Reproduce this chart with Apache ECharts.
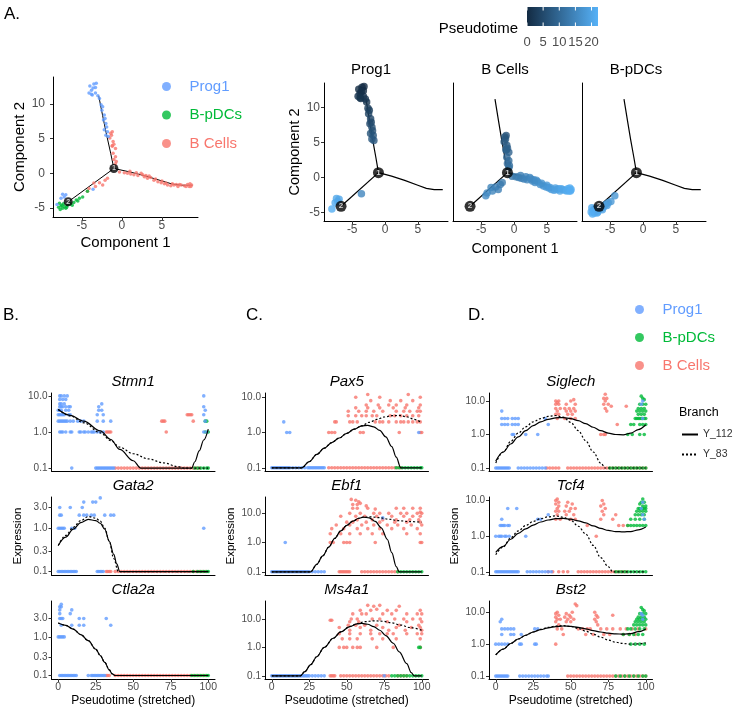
<!DOCTYPE html>
<html>
<head>
<meta charset="utf-8">
<script src="https://cdn.jsdelivr.net/npm/echarts@6/dist/echarts.min.js"></script>
<style>
  html, body { margin: 0; background: #fff; }
  #chart { width: 734px; height: 709px; }
</style>
</head>
<body>
<div id="chart"></div>
<script>
// ---------- panel A: cell trajectory (component 1, component 2, pseudotime) ----------
const prog1Pts = [[-4.0,12.6,0.3],[-3.8,12.0,0.8],[-3.5,12.9,0.1],[-3.3,12.4,0.4],[-3.2,13.0,0.0],[-4.1,11.6,1.2],[-3.7,11.3,1.5],[-3.3,11.6,1.2],[-3.0,11.2,1.6],[-2.8,10.8,2.0],[-3.6,12.3,0.6],[-3.8,11.4,1.4],
  [-2.6,9.9,2.9],[-2.4,9.6,3.2],[-2.5,9.1,3.7],[-2.2,8.4,4.3],[-2.1,7.9,4.8],[-2.3,7.7,5.0],[-2.0,7.2,5.5],[-1.9,6.7,6.0],[-2.2,6.3,6.4],[-1.8,6.0,6.7],[-2.0,5.5,7.2],[-1.7,5.3,7.4],
  [-7.4,-3.0,20.3],[-7.2,-3.4,20.4],[-7.6,-3.6,20.8],[-7.0,-3.1,20.1],[-8.1,-4.5,21.5],[-3.6,-2.3,15.0]];
const bCellPts = [[-1.2,6.0,6.8],[-1.3,5.5,7.2],[-1.1,4.6,8.1],[-1.0,4.2,8.5],[-1.2,3.9,8.8],[-0.8,3.6,9.1],[-1.1,2.9,9.8],[-0.8,2.4,10.3],[-1.0,2.0,10.7],[-0.7,1.7,11.0],[-0.8,1.4,11.3],[-1.4,5.8,7.0],[-1.2,4.0,8.7],[-1.5,5.1,7.5],
  [-0.3,0.2,12.4],[0.3,0.1,13.0],[0.7,0.0,13.4],[1.1,-0.1,13.8],[1.5,-0.2,14.2],[2.0,-0.3,14.7],[2.4,0.0,15.1],[2.8,-0.5,15.5],[3.2,-0.7,15.9],[3.6,-0.6,16.3],[4.0,-1.0,16.8],[4.5,-1.2,17.3],[4.9,-1.35,17.7],[5.3,-1.5,18.1],[5.7,-1.7,18.5],[6.1,-1.8,18.9],[6.5,-1.7,19.3],[7.0,-1.9,19.8],[7.4,-1.7,20.2],[7.8,-1.8,20.6],[8.2,-1.6,21.0],[8.5,-1.5,21.3],[8.7,-1.7,21.5],[8.4,-1.9,21.2],[6.8,-1.6,19.6],[5.0,-1.1,17.8],[3.0,-0.3,15.7],[1.0,0.3,13.7],
  [1.8,0.1,14.5],[2.6,-0.2,15.3],[3.4,-0.4,16.1],[4.2,-0.8,16.9],[5.5,-1.4,18.3],[6.3,-1.5,19.1],[7.2,-1.6,20.0],[8.0,-1.9,20.8],[8.6,-1.9,21.4],
  [-3.5,-1.4,14.6],[-3.3,-1.9,14.9],[-2.8,-1.35,14.2],[-2.4,-1.7,13.9],[-2.1,-1.0,13.3],[-1.8,-0.7,13.0],[-4.1,-2.2,15.5],[-4.3,-2.6,15.8]];
const bpdcPts = [[-7.8,-4.3,20.8],[-7.6,-4.7,21.1],[-7.4,-5.05,21.3],[-7.2,-4.8,21.0],[-7.0,-5.05,21.2],[-7.5,-4.6,20.9],[-7.7,-5.2,21.5],[-6.8,-4.6,20.4],[-6.4,-4.4,19.9],[-6.0,-4.2,19.4],[-5.7,-3.85,19.0],[-5.3,-3.6,18.5],[-4.9,-3.4,18.0],[-6.9,-4.9,20.6],[-7.3,-4.4,20.7],[-6.2,-4.6,19.9],[-5.5,-4.0,19.1],[-7.9,-4.9,21.4],[-4.3,-2.6,17.5]];
const stemArm = [[-2.9,11.2],[-2.4,8.3],[-1.9,5.5],[-1.4,2.9],[-1.0,0.7]];
const leftArm = [[-1.0,0.7],[-6.7,-4.1]];
const rightArm = [[-1.0,0.7],[1.0,0.2],[3.0,-0.4],[5.0,-1.1],[6.3,-1.55],[7.5,-1.72],[8.8,-1.72]];
const branchNodes = [[-1.0,0.7,'1'],[-6.7,-4.1,'2']];
const componentTicks = [-5, 0, 5];
const component2Ticks = [-5, 0, 5, 10];
const pseudotimeTicks = [0, 5, 10, 15, 20];
const pseudotimeMax = 22;

// ---------- panels B-D: expression vs pseudotime, [pseudotime, expression] ----------
// zeros are drawn at 0.1 on the log axis
const stmn1Prog1 = [[1,10],[2,10],[4,10],[6,10],[1,8],[3,8],[5,8],[1,6],[2,6],[4,6],[29,6],[1,5],[2,5],[3,5],[5,5],[7,5],[8,5],[27,5],[0,4],[1,4],[2,4],[5,4],[7,4],[27,4],[29,4],[0,3],[1,3],[2,3],[3,3],[4,3],[7,3],[8,3],[26,3],[30,3],[0,2],[1,2],[2,2],[3,2],[4,2],[5,2],[6,2],[8,2],[10,2],[13,2],[15,2],[17,2],[26,2],[30,2],[35,2],[1,1],[2,1],[3,1],[5,1],[8,1],[9,1],[14,1],[15,1],[17,1],[18,1],[20,1],[22,1],[23,1],[24,1],[26,1],[28,1],[30,1],[97,10],[97,5],[98,4],[97,3],[98,2],[97,1],[99,1]];
const stmn1Prog1Zero = [9,25,26,27,28,29,30,31,32,33,34,35,36,37];
const stmn1BCells = [[32,1],[33,1],[34,1],[35,1],[69,2],[70,2],[71,2],[72,1],[86,3],[87,3],[88,3],[89,3],[90,2]];
const stmn1BCellsZero = [38,40,42,44,46,48,50,52,54,56,58,60,62,64,66,68,70,72,74,76,78,80,82,84,86,88,90,92,94];
const stmn1BpDCs = [[98,2],[99,2],[98,1],[100,1]];
const stmn1BpDCsZero = [91,93,95,97,99,100];
const stmn1Fit112 = [[0,4.2],[8,2.9],[17,2.0],[28,1.07],[35,0.62],[41,0.33],[50,0.16],[55,0.1],[89,0.1],[91,0.15],[94,0.3],[97,0.6],[100,1.2]];
const stmn1Fit83 = [[0,4.2],[8,2.8],[17,1.8],[28,0.95],[35,0.58],[41,0.38],[50,0.25],[60,0.18],[70,0.14],[80,0.11],[84,0.1],[100,0.1]];

const gata2Prog1 = [[28,5],[17,4],[23,4],[25,4],[1,3],[8,3],[16,3],[1,2],[2,2],[14,2],[17,2],[19,2],[22,2],[24,2],[31,2],[35,2],[37,2],[0,1],[1,1],[2,1],[3,1],[4,1],[9,1],[11,1],[97,1]];
const gata2Prog1Zero = [0,1,2,3,4,5,6,7,8,9,10,11,12,26,27,28,29,30];
const gata2BCells = [];
const gata2BCellsZero = [32,33,34,35,38,40,42,44,46,48,50,52,54,56,58,60,62,64,66,68,70,72,74,76,78,80,82,84,86,88,90,92,94,96,98];
const gata2BpDCs = [];
const gata2BpDCsZero = [90,93,95,97,99,100];
const gata2Fit112 = [[0,0.4],[5,0.62],[10,0.95],[15,1.35],[20,1.6],[25,1.5],[28,1.3],[31,0.95],[34,0.5],[37,0.25],[39,0.15],[41,0.1],[100,0.1]];
const gata2Fit83 = [[0,0.4],[5,0.68],[10,1.05],[15,1.5],[20,1.85],[25,1.7],[28,1.45],[31,1.0],[34,0.5],[37,0.2],[40,0.1],[100,0.1]];

const ctla2aProg1 = [[2,7],[1,6],[2,6],[1,5],[9,5],[1,4],[8,4],[1,3],[2,3],[3,3],[14,3],[17,3],[32,3],[2,2],[9,2],[14,2],[17,2],[35,2],[0,1],[1,1],[2,1],[3,1],[4,1]];
const ctla2aProg1Zero = [1,2,3,4,5,6,7,8,9,10,11,12,20,22,23,24,25,26,27,28,29,30,31];
const ctla2aBCells = [];
const ctla2aBCellsZero = [32,33,34,38,40,42,44,46,48,50,52,54,56,58,60,62,64,66,68,70,72,74,76,78,80,82,84,86,88,90,92,94,96,98];
const ctla2aBpDCs = [];
const ctla2aBpDCsZero = [89,91,93,95,97,99,100];
const ctla2aFit112 = [[0,2.3],[5,2.0],[10,1.6],[15,1.15],[20,0.8],[25,0.48],[28,0.33],[31,0.22],[34,0.14],[36,0.11],[38,0.1],[100,0.1]];
const ctla2aFit83 = [[0,2.3],[5,2.0],[10,1.6],[15,1.15],[20,0.8],[25,0.48],[28,0.33],[31,0.22],[34,0.14],[36,0.11],[38,0.1],[100,0.1]];

const pax5Prog1 = [[8,2],[10,1],[12,1],[98,1]];
const pax5Prog1Zero = [0,1,2,3,4,5,6,7,8,9,10,11,12,14,16,18,20,22,24,25,26,27,28,29,30,31,32,33,34,35];
const pax5BCells = [[38,1],[40,1],[42,1],[59,1],[61,1],[85,1],[99,1],[100,1],[42,2],[43,2],[52,2],[54,2],[57,2],[69,2],[72,2],[74,2],[78,2],[83,2],[86,2],[88,2],[91,2],[94,2],[97,2],[99,2],[51,3],[56,3],[60,3],[63,3],[67,3],[70,3],[79,3],[82,3],[86,3],[90,3],[94,3],[98,3],[51,4],[58,4],[63,4],[68,4],[74,4],[83,4],[88,4],[92,4],[97,4],[99,4],[56,5],[64,5],[72,5],[81,5],[89,5],[98,5],[63,6],[71,6],[78,6],[83,6],[90,6],[99,6],[66,8],[79,8],[86,8],[94,8],[56,10],[72,10],[99,10],[64,12],[91,12]];
const pax5BCellsZero = [38,40,42,44,46,48,50,52,54,56,58,60,62,64,66,68,70,72,74,76,78,80,82,84,86];
const pax5BpDCs = [];
const pax5BpDCsZero = [83,85,87,89,91,93,95,97,99,100];
const pax5Fit112 = [[0,0.1],[20,0.1],[25,0.15],[30,0.24],[35,0.36],[40,0.52],[45,0.7],[50,0.95],[55,1.25],[60,1.55],[64,1.6],[68,1.45],[72,1.15],[76,0.75],[80,0.4],[83,0.2],[86,0.1],[100,0.1]];
const pax5Fit83 = [[0,0.1],[20,0.1],[25,0.15],[30,0.24],[35,0.36],[40,0.52],[45,0.7],[50,0.95],[55,1.25],[60,1.55],[65,1.95],[70,2.35],[75,2.75],[80,3.0],[85,3.05],[90,2.8],[95,2.35],[100,1.9]];

const ebf1Prog1 = [[9,1],[74,7]];
const ebf1Prog1Zero = [0,1,2,3,4,5,6,7,8,9,10,11,12,13,14,15,16,17,18,19,20,21,22,23,24,25,27,29,31,33,35];
const ebf1BCells = [[53,30],[56,28],[58,25],[54,20],[57,20],[59,22],[63,18],[54,15],[57,15],[64,15],[69,14],[83,15],[88,15],[94,15],[99,15],[52,10],[59,10],[68,10],[72,10],[78,10],[86,10],[90,10],[97,10],[99,11],[100,10],[46,8],[56,8],[62,8],[70,8],[80,8],[88,8],[94,8],[99,8],[57,6],[67,6],[74,6],[83,6],[92,6],[98,6],[50,5],[54,5],[63,5],[72,5],[82,5],[90,5],[99,5],[43,4],[52,4],[60,4],[68,4],[77,4],[84,4],[93,4],[100,4],[40,3],[48,3],[57,3],[64,3],[72,3],[80,3],[88,3],[97,3],[39,2],[46,2],[52,2],[59,2],[67,2],[74,2],[90,2],[99,2],[39,1],[41,1],[48,1],[50,1],[52,1],[69,1],[99,1],[100,1]];
const ebf1BCellsZero = [45,46,47,48,49,50,51,52,60,62,64,66,68,70,72,74,76,78,80,82,84];
const ebf1BpDCs = [];
const ebf1BpDCsZero = [84,86,88,90,92,94,96,98,100];
const ebf1Fit112 = [[0,0.1],[26,0.1],[30,0.18],[34,0.35],[38,0.7],[42,1.4],[46,2.5],[50,3.9],[54,5.4],[58,6.8],[61,7.4],[65,7.0],[69,5.3],[73,3.2],[77,1.3],[80,0.45],[83,0.15],[85,0.1],[100,0.1]];
const ebf1Fit83 = [[0,0.1],[26,0.1],[30,0.18],[34,0.35],[38,0.7],[42,1.4],[46,2.5],[50,3.9],[54,5.4],[58,6.8],[61,7.4],[66,7.6],[72,7.1],[78,6.3],[85,5.6],[92,5.2],[100,5.0]];

const ms4a1Prog1 = [];
const ms4a1Prog1Zero = [0,1,2,3,4,5,6,7,8,9,10,11,12,13,14,15,16,17,18,19,20,21,22,23,24,25,27,29,31,33,35,75];
const ms4a1BCells = [[64,30],[68,28],[72,30],[85,28],[59,20],[66,20],[70,22],[77,20],[83,20],[99,20],[54,15],[60,15],[63,15],[74,15],[80,15],[90,15],[97,15],[100,15],[53,10],[57,10],[67,10],[72,10],[82,10],[88,10],[94,10],[99,10],[39,9],[40,9],[52,8],[58,8],[77,8],[90,8],[100,8],[51,6],[56,6],[62,6],[70,6],[85,6],[98,6],[45,5],[59,5],[74,5],[83,5],[93,5],[99,5],[52,4],[66,4],[78,4],[89,4],[100,4],[45,3],[52,3],[59,3],[66,3],[72,3],[77,3],[81,3],[90,3],[97,3],[100,3],[47,2],[52,2],[57,2],[67,2],[74,2],[83,2],[99,2],[45,1],[48,1],[50,1],[54,1],[57,1],[59,1],[70,1],[81,1],[99,1]];
const ms4a1BCellsZero = [39,40,41,42,46,48,50,52,54,56,58,60,62,64,66,68,70,72,74,76,78,84,86,88,90];
const ms4a1BpDCs = [[98,1],[99,1]];
const ms4a1BpDCsZero = [80,82,84,86,88,90,92,94,96,98,100];
const ms4a1Fit112 = [[0,0.1],[19,0.1],[22,0.14],[26,0.25],[30,0.47],[35,1.0],[41,2.1],[46,3.5],[52,5.4],[57,6.7],[60,7.0],[64,6.5],[68,5.4],[72,4.0],[76,2.6],[81,1.4],[85,0.7],[90,0.27],[93,0.13],[95,0.1],[100,0.1]];
const ms4a1Fit83 = [[0,0.1],[19,0.1],[22,0.14],[26,0.25],[30,0.47],[35,1.0],[41,2.1],[46,3.5],[52,5.4],[57,6.9],[62,8.0],[68,8.6],[74,8.3],[80,7.3],[86,6.1],[92,5.0],[100,4.0]];

const siglechProg1 = [[4,5],[4,3],[6,3],[8,3],[11,3],[13,3],[15,3],[33,3],[4,2],[6,2],[8,2],[11,2],[13,2],[15,2],[35,2],[11,1],[12,1],[20,1],[28,1],[98,10],[97,8],[98,3]];
const siglechProg1Zero = [0,1,2,3,4,5,6,7,8,9,15,17,19,21,23,25,27,29,31,33];
const siglechBCells = [[40,10],[42,10],[41,9],[40,8],[42,8],[40,6],[43,6],[41,5],[40,4],[42,4],[41,3],[47,8],[50,10],[52,11],[53,8],[46,6],[49,6],[52,6],[47,5],[50,5],[53,5],[48,4],[51,4],[46,3],[50,3],[53,3],[73,16],[72,12],[74,12],[73,10],[72,8],[75,8],[73,6],[74,5],[77,7],[70,1],[72,1],[73,1],[81,2],[87,7]];
const siglechBCellsZero = [34,36,38,40,42,48,50,52,54,56,58,60,62,64,66,68,70,72,74,76,78,80,82,84,86,88,90,92,94,96,98,100];
const siglechBpDCs = [[97,14],[98,12],[99,11],[96,8],[98,8],[100,8],[95,6],[97,6],[99,6],[94,5],[96,5],[98,5],[100,5],[95,4],[97,4],[99,4],[93,3],[94,3],[95,3],[96,3],[97,3],[98,3],[99,3],[100,3],[90,2],[92,2],[96,2],[98,2],[100,2],[88,1],[91,1],[96,1],[99,1]];
const siglechBpDCsZero = [76,78,80,82,84,86,88,90,92,94,96,98,100];
const siglechFit112 = [[0,0.16],[5,0.3],[10,0.52],[15,0.85],[20,1.3],[25,1.85],[30,2.4],[35,2.85],[40,3.15],[45,3.2],[50,3.0],[55,2.6],[60,2.1],[65,1.65],[70,1.3],[75,1.1],[80,1.0],[85,0.98],[90,1.1],[95,1.4],[100,1.95]];
const siglechFit83 = [[0,0.14],[5,0.3],[10,0.62],[15,1.1],[20,1.7],[25,2.4],[30,3.0],[35,3.5],[40,3.7],[45,3.3],[50,2.3],[55,1.3],[60,0.65],[65,0.3],[70,0.14],[73,0.1],[100,0.1]];

const tcf4Prog1 = [[8,6],[14,6],[4,3],[28,3],[30,3],[35,4],[3,2],[4,2],[5,2],[6,2],[8,2],[9,2],[0,1],[2,1],[3,1],[4,1],[6,1],[7,1],[9,1],[20,1],[98,9],[97,6],[98,4],[99,3]];
const tcf4Prog1Zero = [0,1,2,3,4,5,6,7,8,9,10,11,12,13,14,15,21,23,25,27,29,31,33,35,37];
const tcf4BCells = [[41,11],[40,10],[42,9],[40,8],[42,7],[41,6],[40,5],[42,5],[41,4],[40,3],[43,3],[48,9],[51,8],[47,7],[50,6],[53,6],[46,5],[49,5],[52,4],[47,4],[50,3],[53,3],[71,10],[72,8],[70,7],[73,6],[71,5],[72,4],[70,3],[78,3],[80,4],[61,2],[67,1],[82,2],[85,2],[88,2]];
const tcf4BCellsZero = [35,38,42,45,48,55,57,59,61,63,65,67,69,71,73,75,77,79,81,83,85,87];
const tcf4BpDCs = [[98,11],[97,9],[99,9],[96,8],[98,7],[100,7],[95,6],[96,6],[97,6],[98,6],[99,6],[100,6],[94,5],[96,5],[98,5],[100,5],[93,4],[95,4],[97,4],[99,4],[90,3],[93,3],[96,3],[99,3],[88,2],[90,2],[92,2],[94,2],[96,2],[98,2],[100,2]];
const tcf4BpDCsZero = [80,82,84,86,88,90,92,94,96,98,100];
const tcf4Fit112 = [[0,0.35],[5,0.52],[10,0.82],[15,1.2],[20,1.6],[25,2.05],[30,2.5],[35,2.85],[40,3.1],[45,3.15],[50,3.0],[55,2.7],[60,2.35],[65,1.95],[70,1.65],[75,1.45],[80,1.35],[85,1.32],[90,1.35],[95,1.5],[100,1.8]];
const tcf4Fit83 = [[0,0.3],[5,0.5],[10,0.9],[15,1.4],[20,2.0],[25,2.6],[30,3.1],[35,3.5],[40,3.7],[45,3.4],[50,2.8],[55,1.9],[60,1.15],[65,0.55],[70,0.25],[75,0.14],[78,0.1],[100,0.1]];

const bst2Prog1 = [[3,5],[4,6],[4,3],[6,3],[8,3],[10,3],[12,3],[26,3],[28,3],[4,2],[10,2],[12,2],[17,2],[0,1],[2,1],[4,1],[6,1],[8,1],[16,1],[17,1],[26,1],[27,1],[97,9],[98,8],[98,6]];
const bst2Prog1Zero = [0,1,2,3,4,5,6,7,8,16,18,20,22,24,26,28,30,32,34,35];
const bst2BCells = [[41,10],[40,9],[42,8],[40,7],[41,6],[43,6],[40,5],[42,4],[41,3],[40,1],[47,9],[49,8],[51,10],[53,18],[54,16],[46,7],[48,6],[50,7],[52,6],[47,5],[50,5],[66,10],[67,8],[68,7],[66,6],[67,5],[68,4],[78,8],[44,3],[55,3],[58,3],[61,3],[63,3],[70,3],[74,3],[78,3],[83,3],[87,3],[91,3],[95,3],[100,3],[45,2],[60,2],[65,2],[72,2],[76,2],[85,2],[89,2],[93,2]];
const bst2BCellsZero = [48,50,52,54,56,58,60,62,64,66,68,70,72,74,76,78,80,82,84,86,88,90,92,94,96,98,100];
const bst2BpDCs = [[97,14],[98,12],[99,11],[96,9],[98,9],[100,9],[95,7],[97,7],[99,7],[94,6],[96,6],[98,6],[100,6],[93,5],[95,5],[97,5],[99,5],[92,4],[94,4],[96,4],[98,4],[100,4],[88,3],[90,3],[93,3],[96,3],[99,3],[85,2],[89,2],[92,2],[95,2],[98,2],[90,1],[93,1],[96,1],[99,1]];
const bst2BpDCsZero = [80,83,86,89,92,95,98,100];
const bst2Fit112 = [[0,0.46],[5,0.7],[10,1.05],[15,1.45],[20,1.9],[25,2.4],[30,2.85],[35,3.25],[40,3.55],[45,3.7],[50,3.6],[55,3.35],[60,3.0],[65,2.65],[70,2.4],[75,2.2],[80,2.1],[85,2.05],[90,2.15],[95,2.45],[100,3.0]];
const bst2Fit83 = [[0,0.46],[5,0.7],[10,1.05],[15,1.45],[20,1.9],[25,2.4],[30,2.9],[35,3.35],[40,3.7],[45,3.8],[50,3.6],[55,3.1],[60,2.55],[65,2.05],[70,1.65],[75,1.35],[80,1.15],[85,1.05],[90,1.0],[95,1.02],[100,1.1]];

const pseudoTicks = [0, 25, 50, 75, 100];

// ---------- styling ----------
const FONT = '"Liberation Sans", Arial, sans-serif';
const TICK = '#4D4D4D';
const colors = { 'Prog1': '#619CFF', 'B-pDCs': '#00BA38', 'B Cells': '#F8766D' };

const chart = echarts.init(document.getElementById('chart'));
const grids = [], xAxes = [], yAxes = [], series = [];
const pseudoSeries = [];

function addGrid(left, top, width, height) {
  grids.push({ left: left, top: top, width: width, height: height, outerBoundsMode: 'none' });
  return grids.length - 1;
}

function axis(gi, min, max, ticks, o) {
  return {
    gridIndex: gi, type: 'value', min: min, max: max,
    axisLine: { show: true, onZero: false, lineStyle: { color: '#000', width: 1 } },
    axisTick: { show: o.ticks !== false, customValues: ticks, length: 3, lineStyle: { color: '#333' } },
    axisLabel: {
      show: o.labels !== false, customValues: ticks, fontSize: o.fontSize || 10,
      color: TICK, fontFamily: FONT, margin: o.margin || 4, formatter: o.formatter
    },
    splitLine: { show: false },
    name: o.name || '', nameLocation: 'middle', nameGap: o.nameGap || 20,
    nameTextStyle: { fontSize: o.nameSize || 12, color: '#000', fontFamily: FONT }
  };
}

// ---------- A, left: coloured by cell type ----------
let g = addGrid(53, 77, 145, 140);
xAxes.push(axis(g, -8.6, 9.5, componentTicks, { fontSize: 12, margin: 3, name: 'Component 1', nameGap: 18, nameSize: 15 }));
yAxes.push(axis(g, -6.3, 13.9, component2Ticks, { fontSize: 12, margin: 8, name: 'Component 2', nameGap: 25, nameSize: 15 }));
series.push({
  type: 'lines', coordinateSystem: 'cartesian2d', xAxisIndex: g, yAxisIndex: g, polyline: true, silent: true,
  lineStyle: { color: '#000', width: 1, opacity: 1 },
  data: [{ coords: stemArm }, { coords: leftArm }, { coords: rightArm }]
});
[['B Cells', bCellPts], ['B-pDCs', bpdcPts], ['Prog1', prog1Pts]].forEach(function (d) {
  series.push({
    name: d[0], type: 'scatter', xAxisIndex: g, yAxisIndex: g, data: d[1], encode: { x: 0, y: 1 },
    symbolSize: 3.5, itemStyle: { color: colors[d[0]] }, silent: true
  });
});
series.push({
  type: 'scatter', xAxisIndex: g, yAxisIndex: g, data: branchNodes, encode: { x: 0, y: 1 }, symbolSize: 9, silent: true,
  itemStyle: { color: '#000' }, z: 5,
  label: { show: true, position: 'inside', formatter: function (p) { return p.data[2]; }, color: '#fff', fontSize: 7, fontWeight: 'bold' }
});

// ---------- A, right: facets coloured by pseudotime ----------
const facets = [prog1Pts, bCellPts, bpdcPts];
facets.forEach(function (pts, i) {
  const gi = addGrid(324 + 129 * i, 83, 124, 138);
  xAxes.push(axis(gi, -9.3, 9.6, componentTicks, {
    fontSize: 12, margin: 3, name: i === 1 ? 'Component 1' : '', nameGap: 20, nameSize: 14.5
  }));
  yAxes.push(axis(gi, -6.2, 13.5, component2Ticks, {
    fontSize: 12, margin: 4, labels: i === 0, ticks: i === 0, name: i === 0 ? 'Component 2' : '', nameGap: 20, nameSize: 14.5
  }));
  series.push({
    type: 'lines', coordinateSystem: 'cartesian2d', xAxisIndex: gi, yAxisIndex: gi, polyline: true, silent: true,
    lineStyle: { color: '#000', width: 1.2, opacity: 1 },
    data: [{ coords: stemArm }, { coords: leftArm }, { coords: rightArm }]
  });
  pseudoSeries.push(series.length);
  series.push({ type: 'scatter', xAxisIndex: gi, yAxisIndex: gi, data: pts, encode: { x: 0, y: 1 }, symbolSize: 7.5, silent: true });
  series.push({
    type: 'scatter', xAxisIndex: gi, yAxisIndex: gi, data: branchNodes, encode: { x: 0, y: 1 }, symbolSize: 11, silent: true,
    itemStyle: { color: '#000' }, z: 5,
    label: { show: true, position: 'inside', formatter: function (p) { return p.data[2]; }, color: '#fff', fontSize: 8, fontWeight: 'bold' }
  });
});

// ---------- B, C, D: gene expression along pseudotime ----------
const geneCols = [
  [
    { title: 'Stmn1', yr: [-1.08, 1.08], ticks: [0.1, 1, 10], p: stmn1Prog1, pz: stmn1Prog1Zero, b: stmn1BCells, bz: stmn1BCellsZero, d: stmn1BpDCs, dz: stmn1BpDCsZero, f1: stmn1Fit112, f2: stmn1Fit83 },
    { title: 'Gata2', yr: [-1.08, 0.72], ticks: [0.1, 0.3, 1, 3], p: gata2Prog1, pz: gata2Prog1Zero, b: gata2BCells, bz: gata2BCellsZero, d: gata2BpDCs, dz: gata2BpDCsZero, f1: gata2Fit112, f2: gata2Fit83 },
    { title: 'Ctla2a', yr: [-1.09, 0.93], ticks: [0.1, 0.3, 1, 3], p: ctla2aProg1, pz: ctla2aProg1Zero, b: ctla2aBCells, bz: ctla2aBCellsZero, d: ctla2aBpDCs, dz: ctla2aBpDCsZero, f1: ctla2aFit112, f2: ctla2aFit83 }
  ],
  [
    { title: 'Pax5', yr: [-1.09, 1.12], ticks: [0.1, 1, 10], p: pax5Prog1, pz: pax5Prog1Zero, b: pax5BCells, bz: pax5BCellsZero, d: pax5BpDCs, dz: pax5BpDCsZero, f1: pax5Fit112, f2: pax5Fit83 },
    { title: 'Ebf1', yr: [-1.11, 1.56], ticks: [0.1, 1, 10], p: ebf1Prog1, pz: ebf1Prog1Zero, b: ebf1BCells, bz: ebf1BCellsZero, d: ebf1BpDCs, dz: ebf1BpDCsZero, f1: ebf1Fit112, f2: ebf1Fit83 },
    { title: 'Ms4a1', yr: [-1.11, 1.63], ticks: [0.1, 1, 10], p: ms4a1Prog1, pz: ms4a1Prog1Zero, b: ms4a1BCells, bz: ms4a1BCellsZero, d: ms4a1BpDCs, dz: ms4a1BpDCsZero, f1: ms4a1Fit112, f2: ms4a1Fit83 }
  ],
  [
    { title: 'Siglech', yr: [-1.09, 1.24], ticks: [0.1, 1, 10], p: siglechProg1, pz: siglechProg1Zero, b: siglechBCells, bz: siglechBCellsZero, d: siglechBpDCs, dz: siglechBpDCsZero, f1: siglechFit112, f2: siglechFit83 },
    { title: 'Tcf4', yr: [-1.09, 1.10], ticks: [0.1, 1, 10], p: tcf4Prog1, pz: tcf4Prog1Zero, b: tcf4BCells, bz: tcf4BCellsZero, d: tcf4BpDCs, dz: tcf4BpDCsZero, f1: tcf4Fit112, f2: tcf4Fit83 },
    { title: 'Bst2', yr: [-1.09, 1.35], ticks: [0.1, 1, 10], p: bst2Prog1, pz: bst2Prog1Zero, b: bst2BCells, bz: bst2BCellsZero, d: bst2BpDCs, dz: bst2BpDCsZero, f1: bst2Fit112, f2: bst2Fit83 }
  ]
];
const colLeft = [51.5, 265, 489];
const rowTop = [393, 497, 601];
const panelW = 163.5, panelH = 78;
const geneTitles = [];

function logPts(pairs, zeros) {
  return pairs.concat(zeros.map(function (x) { return [x, 0.1]; }))
    .map(function (p) { return [p[0], Math.log10(p[1])]; });
}

geneCols.forEach(function (col, c) {
  col.forEach(function (gene, r) {
    const gi = addGrid(colLeft[c], rowTop[r], panelW, panelH);
    const bottom = r === 2;
    geneTitles.push([colLeft[c] + panelW / 2, rowTop[r] - 11, gene.title]);
    xAxes.push(axis(gi, -4.5, 104.5, pseudoTicks, {
      labels: bottom, ticks: bottom, fontSize: 10.5, margin: 3,
      name: bottom ? 'Pseudotime (stretched)' : '', nameGap: 16, nameSize: 12
    }));
    yAxes.push(axis(gi, gene.yr[0], gene.yr[1], gene.ticks.map(Math.log10), {
      fontSize: 10, margin: 4, formatter: function (v) { return Math.pow(10, v).toFixed(1); },
      name: r === 1 ? 'Expression' : '', nameGap: 28, nameSize: 11.5
    }));
    [['B Cells', gene.b, gene.bz], ['B-pDCs', gene.d, gene.dz], ['Prog1', gene.p, gene.pz]].forEach(function (s) {
      series.push({
        name: s[0], type: 'scatter', xAxisIndex: gi, yAxisIndex: gi, data: logPts(s[1], s[2]),
        symbolSize: 3.6, itemStyle: { color: colors[s[0]] }, silent: true
      });
    });
    [['Y_112', gene.f1, 'solid'], ['Y_83', gene.f2, [2, 2]]].forEach(function (s) {
      series.push({
        name: s[0], type: 'line', xAxisIndex: gi, yAxisIndex: gi, data: logPts(s[1], []),
        symbol: 'none', smooth: 0.35, smoothMonotone: 'x', silent: true, z: 4,
        lineStyle: { color: '#000', width: 1.2, type: s[2] }, itemStyle: { color: '#000' }
      });
    });
  });
});

// ---------- text and colourbar ----------
function label(x, y, text, size, extra) {
  return {
    type: 'text', x: x, y: y, silent: true,
    style: Object.assign({ text: text, fontSize: size, fontFamily: FONT, fill: '#000', align: 'center', verticalAlign: 'middle' }, extra || {})
  };
}
const barX = 527, barY = 7, barW = 71, barH = 19;
const elements = [
  label(4, 14, 'A.', 17, { align: 'left' }),
  label(3, 315, 'B.', 17, { align: 'left' }),
  label(246, 315, 'C.', 17, { align: 'left' }),
  label(468, 315, 'D.', 17, { align: 'left' }),
  label(371, 70, 'Prog1', 15),
  label(505, 70, 'B Cells', 15),
  label(636, 70, 'B-pDCs', 15),
  label(518, 29, 'Pseudotime', 15, { align: 'right' }),
  label(679, 413, 'Branch', 12.5, { align: 'left' }),
  {
    type: 'rect', silent: true, shape: { x: barX, y: barY, width: barW, height: barH },
    style: { fill: new echarts.graphic.LinearGradient(0, 0, 1, 0, [{ offset: 0, color: '#132B43' }, { offset: 1, color: '#56B1F7' }]) }
  }
];
pseudotimeTicks.forEach(function (t) {
  const x = barX + t / pseudotimeMax * barW;
  elements.push({ type: 'line', silent: true, shape: { x1: x, y1: barY, x2: x, y2: barY + 3.5 }, style: { stroke: '#fff', lineWidth: 1 } });
  elements.push({ type: 'line', silent: true, shape: { x1: x, y1: barY + barH - 3.5, x2: x, y2: barY + barH }, style: { stroke: '#fff', lineWidth: 1 } });
  elements.push(label(x, 42, String(t), 13, { fill: TICK }));
});
geneTitles.forEach(function (t) {
  elements.push(label(t[0], t[1], t[2], 15, { fontStyle: 'italic' }));
});

function cellLegend(left, top, gap) {
  return {
    left: left, top: top, orient: 'vertical', icon: 'circle', itemWidth: 36, itemHeight: 9, itemGap: gap,
    selectedMode: false, padding: 0,
    textStyle: { fontSize: 15, fontFamily: FONT },
    data: ['Prog1', 'B-pDCs', 'B Cells'].map(function (n) { return { name: n, textStyle: { color: colors[n] } }; })
  };
}

chart.setOption({
  animation: false,
  backgroundColor: '#fff',
  grid: grids,
  xAxis: xAxes,
  yAxis: yAxes,
  visualMap: {
    type: 'continuous', show: false, min: 0, max: pseudotimeMax, dimension: 2,
    seriesIndex: pseudoSeries, inRange: { color: ['#132B43', '#56B1F7'] }
  },
  legend: [
    cellLegend(162, 79, 13.5),
    cellLegend(635, 302, 13),
    {
      left: 681, top: 429, orient: 'vertical', itemWidth: 16, itemHeight: 10, itemGap: 9,
      selectedMode: false, padding: 0,
      itemStyle: { opacity: 0 },
      lineStyle: { opacity: 1 },
      textStyle: { fontSize: 10.5, fontFamily: FONT, color: '#333' },
      data: ['Y_112', 'Y_83']
    }
  ],
  graphic: { elements: elements },
  series: series
});
</script>
</body>
</html>
